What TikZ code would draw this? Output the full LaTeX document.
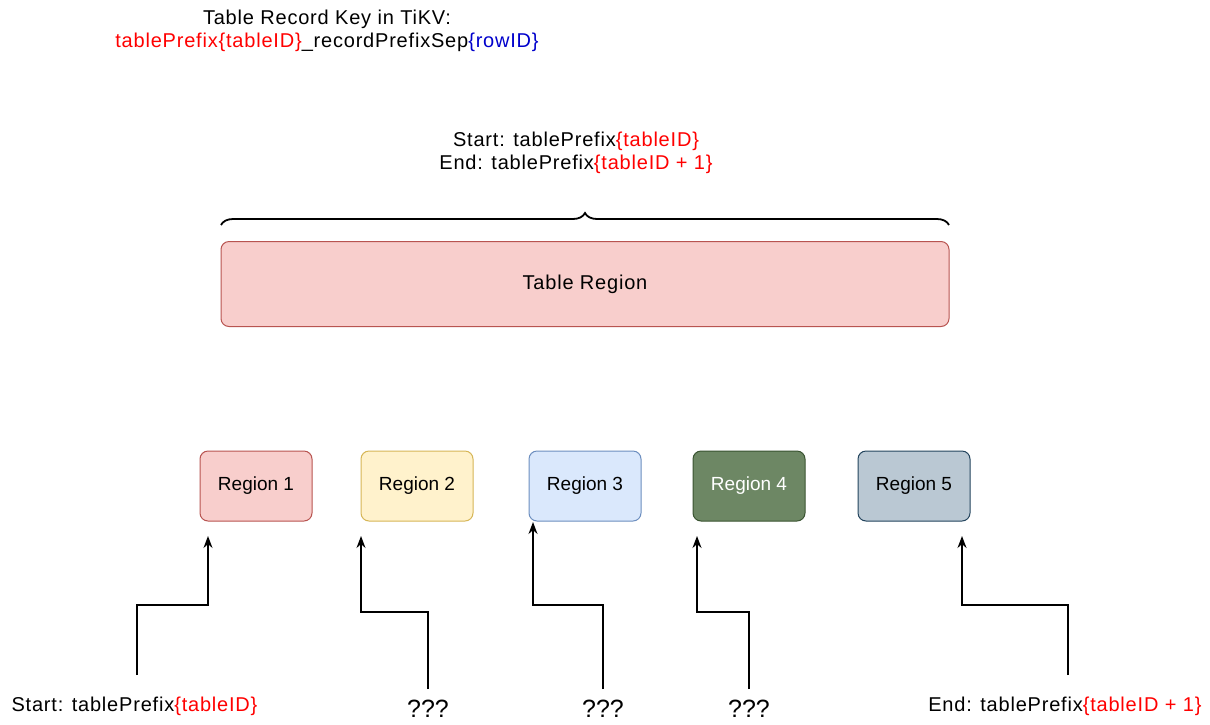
\documentclass[tikz,border=0pt]{standalone}
\usepackage{fontspec}
\setmainfont{Liberation Sans}
\newfontfamily\keyfont{Liberation Sans}[LetterSpace=4]
\usetikzlibrary{arrows.meta,decorations.pathreplacing}

\definecolor{keyred}{HTML}{FF0000}
\definecolor{keyblue}{HTML}{0000CC}
\definecolor{redfill}{HTML}{F8CECC}
\definecolor{reddraw}{HTML}{B85450}
\definecolor{yellowfill}{HTML}{FFF2CC}
\definecolor{yellowdraw}{HTML}{D6B656}
\definecolor{bluefill}{HTML}{DAE8FC}
\definecolor{bluedraw}{HTML}{6C8EBF}
\definecolor{greenfill}{HTML}{6D8764}
\definecolor{greendraw}{HTML}{3A5431}
\definecolor{greyfill}{HTML}{BAC8D3}
\definecolor{greydraw}{HTML}{23445D}

\tikzset{
  region/.style={draw, line width=1pt, rounded corners=8pt,
    minimum width=112pt, minimum height=70pt},
  uparrow/.style={line width=1.5pt, -{Stealth[length=12pt,width=9pt]}},
  keytext/.style={align=center, font=\keyfont\fontsize{20}{23}\selectfont},
}

\begin{document}
\begin{tikzpicture}[x=1pt, y=-1pt]
  \fill[white] (0,0) rectangle (1210,724);
  \useasboundingbox (0,0) rectangle (1210,724);

  % key format and table range
  \node[keytext] (title) at (327,31) {Table Record Key in TiKV:\\
    \textcolor{keyred}{tablePrefix\{tableID\}}\_recordPrefixSep\textcolor{keyblue}{\{rowID\}}};
  \node[keytext] (range) at (576,153) {Start: tablePrefix\textcolor{keyred}{\{tableID\}}\\
    End: tablePrefix\textcolor{keyred}{\{tableID + 1\}}};

  \draw[line width=1.8pt, decorate, decoration={brace, amplitude=12pt}]
    (221,225) -- (949,225);

  \node[region, fill=redfill, draw=reddraw, minimum width=728pt, minimum height=85pt,
    font=\keyfont\fontsize{20}{23}\selectfont] (table) at (585,284) {Table Region};

  % regions, left to right
  \foreach \n/\x/\f/\d/\t in {1/256/redfill/reddraw/black, 2/417/yellowfill/yellowdraw/black,
      3/585/bluefill/bluedraw/black, 4/749/greenfill/greendraw/white, 5/914/greyfill/greydraw/black} {
    \node[region, fill=\f, draw=\d, text=\t, font=\fontsize{19}{23}\selectfont]
      (r\n) at (\x,486) {Region \n};
  }

  % keys pointing into the regions
  \foreach \n/\sx/\sy/\k/\tx/\ty in {1/137/675/605/208/536, 2/428/689/612/361/536,
      3/603/689/605/533/522, 4/749/689/612/697/536, 5/1068/675/605/962/536} {
    \coordinate (s\n) at (\sx,\sy);
    \coordinate (t\n) at (\tx,\ty);
    \draw[uparrow] (s\n) -- (s\n |- 0,\k) -| (t\n);
  }

  \node[anchor=west, keytext] (startkey) at (8,706)
    {Start: tablePrefix\textcolor{keyred}{\{tableID\}}};
  \node[anchor=east, keytext] (endkey) at (1205,706)
    {End: tablePrefix\textcolor{keyred}{\{tableID + 1\}}};
  \foreach \n/\x in {2/428, 3/603, 4/749} {
    \node[font=\fontsize{25}{30}\selectfont] (q\n) at (\x,709) {???};
  }
\end{tikzpicture}
\end{document}
